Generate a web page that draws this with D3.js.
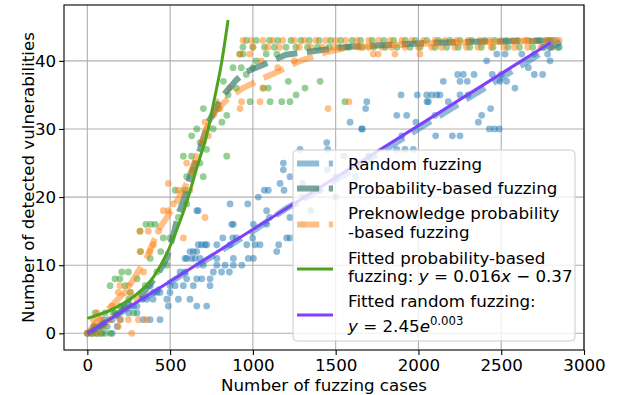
<!DOCTYPE html>
<html>
<head>
<meta charset="utf-8">
<script src="https://cdn.jsdelivr.net/npm/d3@7"></script>
<style>
  body { margin: 0; background: #fff; }
  svg text { font-family: "DejaVu Sans", sans-serif; fill: #000; }
</style>
</head>
<body>
<svg id="chart" width="618" height="395"></svg>
<script>
// tick values
const xTicks = [0, 500, 1000, 1500, 2000, 2500, 3000];
const yTicks = [0, 10, 20, 30, 40];

// scatter points: [cases, vulnerabilities]
const randomPts = [
  [0,0],[30,0],[60,0],[90,0],[150,0],[120,1],[180,1],[40,1],[80,1],[100,2],[150,2],[200,2],
  [250,3],[300,3],[338,2],[379,2],[439,2],[359,5],[397,5],[220,4],[280,4],[330,5],[420,6],
  [380,7],[439,6],[499,6],[489,4],[480,5],[550,5],[620,5],[530,7],[580,7],[560,9],[590,9],
  [661,4],[721,4],[600,8],[661,8],[691,8],[741,8],[640,7],[741,7],[600,11],[630,11],[650,11],
  [681,11],[782,11],[620,12],[640,12],[661,12],[670,13],[690,13],[711,13],[721,13],[782,13],
  [862,13],[963,13],[1013,13],[1043,13],[1156,13],[1144,12],[590,11],[882,11],[972,11],
  [1003,11],[782,10],[832,10],[882,10],[933,10],[761,9],[811,9],[858,9],[661,18],[670,18],
  [818,14],[878,14],[999,14],[1204,14],[1224,14],[872,16],[882,16],[1003,16],[1083,16],
  [1224,17],[1083,18],[862,19],[969,19],[1033,20],[1069,21],[1093,21],[1188,21],[1164,22],
  [1184,24],[1184,25],[1224,23],[1285,27],[1446,28],[1452,27],[1869,27],[1919,27],[1969,27],
  [1657,30],[1587,31],[1661,30],[1681,33],[1869,32],[1929,32],[1985,31],[1688,34],[1895,35],
  [1993,35],[2050,35],[2080,35],[2110,35],[2130,35],[2251,35],[2052,34],[2180,34],[2104,29],
  [2205,29],[2251,29],[2428,30],[2458,30],[2488,30],[2362,31],[2382,32],[2436,33],[2060,34],
  [2150,37],[2251,37],[2295,37],[2493,37],[2533,37],[2237,38],[2271,38],[2336,38],[2446,38],
  [2583,36],[2412,40],[2795,40],[2473,41],[2523,41],[2624,41],[2664,39],[2700,38],[2750,38],
  [2750,42],[2800,42],[2850,42],[2820,43],[2780,41],
  [1300,22],[1350,18],[1400,21],[1450,24],[1500,20],[1550,26],[1620,23],[1700,26],[1300,16],
  [1260,19],[300,4],[400,6],[500,7],[700,10],[900,14],[1100,17],[1300,20],[1500,23],[1700,26],
  [1900,29],[2100,32],[2300,35],[2500,38],[2700,41]
];

const probPts = [
  [0,0],[20,0],[50,0],[80,0],[110,0],[140,0],[40,1],[90,1],[130,2],[47,3],[107,3],[155,3],
  [167,3],[137,7],[228,7],[208,9],[248,9],[167,8],[197,8],[260,6],[300,8],[322,12],[443,12],
  [354,16],[318,15],[383,16],[409,16],[459,14],[499,14],[530,21],[590,21],[580,26],[630,26],
  [842,26],[640,24],[600,23],[700,23],[630,29],[661,30],[681,28],[701,33],[813,31],[842,32],
  [822,37],[880,39],[930,39],[983,34],[1104,34],[1174,34],[1224,34],[1214,37],[1062,36],
  [1093,36],[1315,36],[1261,35],[1406,37],[1556,34],[1145,41],[940,41],[1000,39],[480,10],
  [420,9],[380,11],[250,5],[200,4],[280,3],[350,7],[550,17],[600,19],[680,25],[720,27],
  [760,30],[790,33],[850,35],[900,36],[960,38],[1020,40],[920,41],[1080,41],
  [960,43],[1020,43],[1100,43],[1150,43],[1230,43],[1290,43],[1340,43],[1400,43],[1470,43],
  [1530,43],[1600,43],[1650,43],[1720,43],[1790,43],[1850,43],[1920,43],[1980,43],[2050,43],
  [2120,43],[2190,43],[2250,43],[2320,43],[2400,43],[2460,43],[2530,43],[2600,43],[2660,43],
  [2730,43],[2800,43],
  [940,42],[1000,42],[1070,42],[1130,42],[1200,42],[1260,42],[1330,42],[1390,42],[1460,42],
  [1520,42],[1580,42],[1660,42],[1730,42],[1800,42],[1870,42],[1950,42],[2010,42],[2100,42],
  [2170,42],[2240,42],[2310,42],[2380,42],[2450,42],[2540,42],[2610,42],[2690,42],[2760,42],
  [2840,42]
];

const preknowPts = [
  [0,0],[30,0],[70,0],[100,1],[187,1],[268,0],[37,2],[77,2],[137,2],[197,2],[248,2],[308,2],
  [358,2],[60,3],[150,4],[187,6],[228,6],[260,6],[197,7],[248,7],[300,5],[340,9],[318,12],
  [379,12],[318,15],[368,15],[459,18],[489,18],[489,22],[600,25],[550,21],[580,14],[711,17],
  [400,13],[430,15],[520,19],[620,21],[660,25],[700,28],[711,31],[721,30],[731,29],[760,32],
  [801,33],[922,33],[1454,33],[932,34],[1043,34],[1580,34],[1062,36],[1727,41],[1757,41],
  [1858,41],[2009,41],[922,41],[980,41],[1050,40],[860,36],[780,34],[1150,39],[1250,40],
  [940,43],[990,43],[1060,43],[1120,43],[1180,43],[1250,43],[1310,43],[1380,43],[1440,43],
  [1500,43],[1560,43],[1630,43],[1700,43],[1760,43],[1830,43],[1900,43],[1960,43],[2030,43],
  [2100,43],[2160,43],[2230,43],[2300,43],[2370,43],[2430,43],[2500,43],[2570,43],[2640,43],
  [2710,43],[2780,43],[2850,43],
  [1000,42],[1090,42],[1160,42],[1280,42],[1350,42],[1420,42],[1490,42],[1560,42],[1640,42],
  [1700,42],[1780,42],[1840,42],[1920,42],[2000,42],[2080,42],[2140,42],[2220,42],[2290,42],
  [2360,42],[2440,42],[2520,42],[2580,42],[2660,42],[2740,42],[2810,42]
];

// averaged curves (dashed)
const randomAvg = [[0,0],[200,3],[400,6],[600,9],[800,12],[1000,15],[1200,18.3],[1400,21],
  [1600,24],[1800,27],[2000,30],[2200,33],[2400,36],[2600,39],[2800,42],[2860,42.8]];
const probAvg = [[0,0],[140,2],[240,4],[340,6],[420,8.5],[480,11],[520,14.5],[550,17.5],
  [580,19.5],[620,23],[680,27],[730,31],[800,34],[830,35.2],[900,37.2],[960,38.4],[1060,39.4],
  [1200,40.9],[1420,41.6],[1590,42.1],[1790,42.3],[2030,42.6],[2330,42.8],[2850,43]];
const preknowAvg = [[0,0],[100,2.9],[240,6.4],[360,11.2],[430,15.2],[520,18.5],[600,22],
  [660,26],[720,30],[780,32.8],[860,34.7],[940,36],[1040,37.2],[1160,38.5],[1275,39.9],
  [1446,41.3],[1590,42],[2000,42.5],[2850,43]];

// fitted curves
const probFit = [[0,2.2],[140,3.4],[280,5.4],[400,8.3],[480,11.7],[540,15.2],[590,18.5],
  [670,25],[720,29],[770,34.7],[810,39.6],[850,46]];
const randomFit = [[0,0],[2800,42.7]];

const svg = d3.select("#chart");
const mLeft = 64, mRight = 584, mTop = 5, mBottom = 350;
const fs = 16.7;

const x = d3.scaleLinear().domain([-141, 3000]).range([mLeft, mRight]);
const y = d3.scaleLinear().domain([-2.45, 48.2]).range([mBottom, mTop]);

// grid
const grid = svg.append("g").attr("stroke", "#b0b0b0").attr("stroke-width", 1.1);
grid.selectAll(".gx").data(xTicks).enter().append("line")
  .attr("x1", d => x(d)).attr("x2", d => x(d)).attr("y1", mTop).attr("y2", mBottom);
grid.selectAll(".gy").data(yTicks).enter().append("line")
  .attr("y1", d => y(d)).attr("y2", d => y(d)).attr("x1", mLeft).attr("x2", mRight);

const plot = svg.append("g");

function scatter(pts, color) {
  plot.append("g").selectAll("circle").data(pts).enter().append("circle")
    .attr("cx", d => x(d[0])).attr("cy", d => y(d[1])).attr("r", 3.4)
    .attr("fill", color).attr("fill-opacity", 0.5);
}
scatter(randomPts, "#1f77b4");
scatter(probPts, "#2ca02c");
scatter(preknowPts, "#ff7f0e");

const line = d3.line().x(d => x(d[0])).y(d => y(d[1]));
const dashColors = { random: ["#1f77b4", 0.5], prob: ["#3d7f70", 0.7], pre: ["#ff7f0e", 0.5] };

function dashed(pts, c) {
  plot.append("path").attr("d", line(pts)).attr("fill", "none")
    .attr("stroke", c[0]).attr("stroke-opacity", c[1]).attr("stroke-width", 6)
    .attr("stroke-dasharray", "22.2,9.6");
}
dashed(randomAvg, dashColors.random);
dashed(probAvg, dashColors.prob);
dashed(preknowAvg, dashColors.pre);

const smooth = d3.line().x(d => x(d[0])).y(d => y(d[1])).curve(d3.curveMonotoneX);
plot.append("path").attr("d", smooth(probFit)).attr("fill", "none")
  .attr("stroke", "#4da31c").attr("stroke-width", 3);
plot.append("path").attr("d", line(randomFit)).attr("fill", "none")
  .attr("stroke", "#7f3fff").attr("stroke-width", 3);

// axes
const xAxis = svg.append("g").attr("transform", "translate(0," + mBottom + ")")
  .call(d3.axisBottom(x).tickValues(xTicks).tickFormat(d3.format("d"))
    .tickSize(4.9).tickPadding(4.5).tickSizeOuter(0));
const yAxis = svg.append("g").attr("transform", "translate(" + mLeft + ",0)")
  .call(d3.axisLeft(y).tickValues(yTicks).tickFormat(d3.format("d"))
    .tickSize(4.9).tickPadding(3).tickSizeOuter(0));
[xAxis, yAxis].forEach(a => {
  a.select(".domain").remove();
  a.selectAll("text").style("font-size", fs + "px").style("font-family", "DejaVu Sans");
  a.selectAll("line").attr("stroke", "#000").attr("stroke-width", 1.1);
});

svg.append("rect").attr("x", mLeft).attr("y", mTop)
  .attr("width", mRight - mLeft).attr("height", mBottom - mTop)
  .attr("fill", "none").attr("stroke", "#000").attr("stroke-width", 1.1);

svg.append("text").attr("x", (mLeft + mRight) / 2).attr("y", 390.5)
  .attr("text-anchor", "middle").style("font-size", fs + "px")
  .text("Number of fuzzing cases");
svg.append("text").attr("transform", "translate(34," + (mTop + mBottom) / 2 + ") rotate(-90)")
  .attr("text-anchor", "middle").style("font-size", fs + "px")
  .text("Number of detected vulnerabilities");

// legend
const lg = svg.append("g");
lg.append("rect").attr("x", 293).attr("y", 150).attr("width", 282).attr("height", 191)
  .attr("rx", 4).attr("fill", "#fff").attr("fill-opacity", 0.8)
  .attr("stroke", "#cccccc").attr("stroke-width", 1);

const hx0 = 297, hx1 = 333, tx = 348;
function dashHandle(yy, c) {
  lg.append("line").attr("x1", hx0).attr("x2", hx1).attr("y1", yy).attr("y2", yy)
    .attr("stroke", c[0]).attr("stroke-opacity", c[1]).attr("stroke-width", 6)
    .attr("stroke-dasharray", "22.2,9.6");
}
function solidHandle(yy, color) {
  lg.append("line").attr("x1", hx0).attr("x2", hx1).attr("y1", yy).attr("y2", yy)
    .attr("stroke", color).attr("stroke-width", 3);
}
function label(yy, s) {
  return lg.append("text").attr("x", tx).attr("y", yy).style("font-size", fs + "px").text(s);
}
dashHandle(163.5, dashColors.random);
label(169.5, "Random fuzzing");
dashHandle(188.5, dashColors.prob);
label(193.5, "Probability-based fuzzing");
dashHandle(224.5, dashColors.pre);
label(219, "Preknowledge probability");
label(237.5, "-based fuzzing");
solidHandle(269, "#4da31c");
label(263.5, "Fitted probability-based");
const m1 = label(281.8, "fuzzing: ");
m1.append("tspan").style("font-style", "italic").text("y");
m1.append("tspan").text(" = 0.016");
m1.append("tspan").style("font-style", "italic").text("x");
m1.append("tspan").text(" \u2212 0.37");
solidHandle(315, "#7f3fff");
label(306.7, "Fitted random fuzzing:");
const m2 = label(331.5, "");
m2.append("tspan").style("font-style", "italic").text("y");
m2.append("tspan").text(" = 2.45");
m2.append("tspan").style("font-style", "italic").text("e");
m2.append("tspan").attr("dy", -7).style("font-size", "11.7px").text("0.003");
</script>
</body>
</html>
